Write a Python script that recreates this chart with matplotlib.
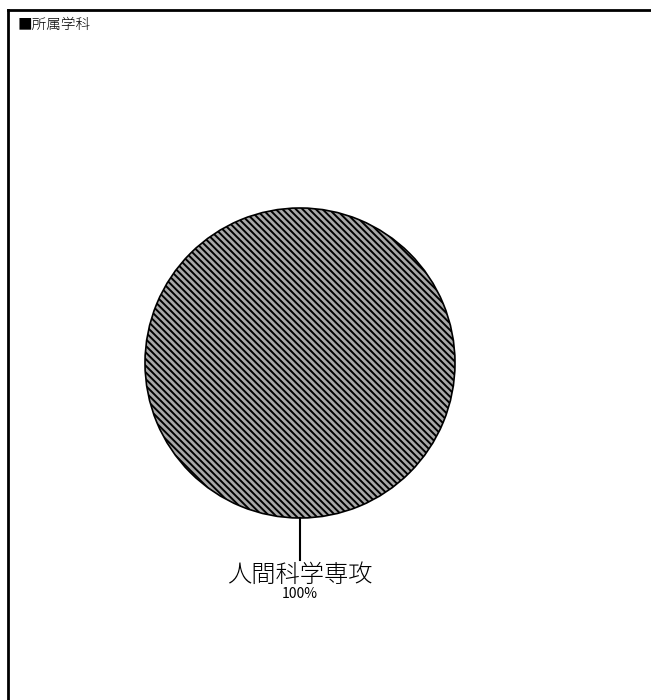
import matplotlib.pyplot as plt

plt.rcParams['font.family'] = ['Noto Sans CJK JP', 'DejaVu Sans']
plt.rcParams['hatch.linewidth'] = 1.4

title = '■所属学科'
labels = ['人間科学専攻']
values = [100]

fig = plt.figure(figsize=(6.51, 7.0), dpi=100)
W, H = 651, 700

# frame: top and left lines only
fig.add_artist(plt.Line2D([8 / W, 1], [1 - 10 / H, 1 - 10 / H], color='black', lw=2))
fig.add_artist(plt.Line2D([8 / W, 8 / W], [0, 1 - 10 / H], color='black', lw=2))
fig.text(18 / W, 1 - 25 / H, title, fontsize=10.5, va='center', ha='left', fontweight='light')

# pie axes: centre (300, 363), radius 155 px
cx, cy, r = 300, 363, 155
ax = fig.add_axes([(cx - r) / W, 1 - (cy + r) / H, 2 * r / W, 2 * r / H])
wedges, _ = ax.pie(values, startangle=90, counterclock=False, radius=1,
                   colors=['#a8a8a8'],
                   wedgeprops=dict(edgecolor='black', linewidth=1.2, hatch='\\\\\\\\\\'))
ax.set_xlim(-1, 1)
ax.set_ylim(-1, 1)
ax.set_aspect('equal')
ax.axis('off')

# leader line and label below the pie
ax.plot([0, 0], [-1, -1.27], color='black', lw=1.5, clip_on=False)
ax.text(0, -1.37, labels[0], fontsize=17.5, ha='center', va='center',
        fontweight='light', clip_on=False)
ax.text(0, -1.49, f'{values[0]}%', fontsize=10, ha='center', va='center', clip_on=False)

fig.savefig('out.png', dpi=100)
